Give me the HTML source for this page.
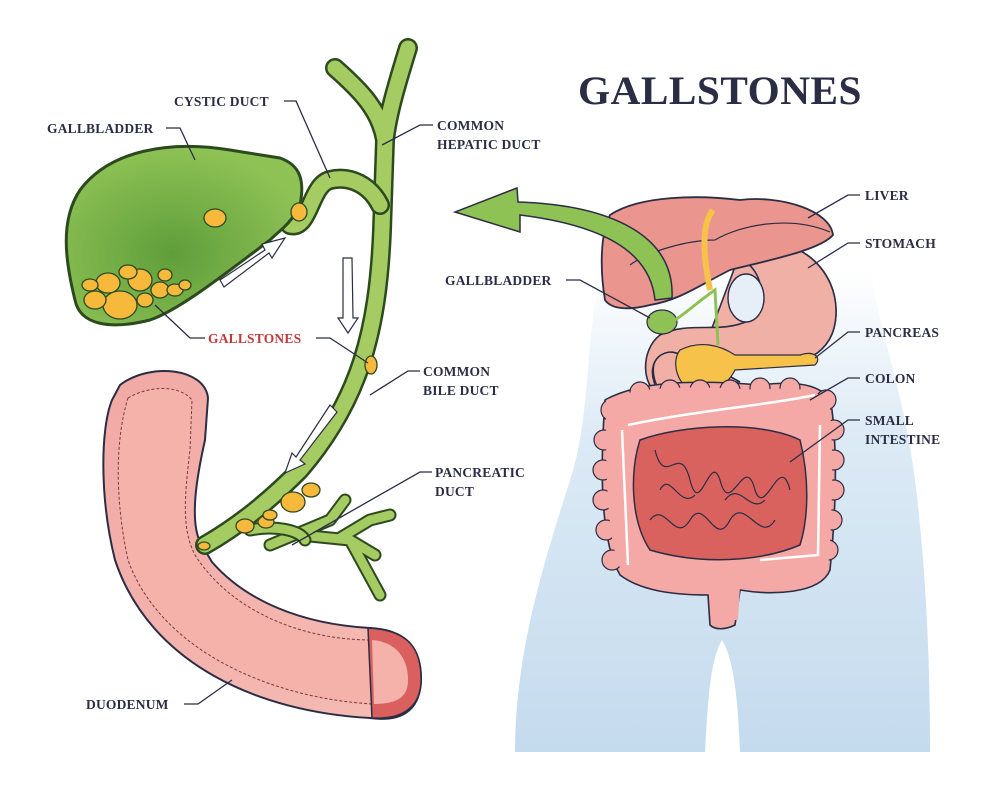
<!DOCTYPE html>
<html><head><meta charset="utf-8"><style>
html,body{margin:0;padding:0;background:#fff;}
svg{display:block;}
.l{font-family:"Liberation Serif","DejaVu Serif",serif;font-weight:bold;font-size:13.5px;fill:#2b2d45;letter-spacing:0.2px;}
.ln{stroke:#2b2d45;stroke-width:1.3;fill:none;}
</style></head><body>
<svg width="1000" height="800" viewBox="0 0 1000 800" xmlns="http://www.w3.org/2000/svg">
<defs>
<linearGradient id="bg" x1="0" y1="0" x2="0" y2="1">
<stop offset="0" stop-color="#ffffff"/><stop offset="0.35" stop-color="#dceaf5"/><stop offset="1" stop-color="#c4dbee"/>
</linearGradient>
<radialGradient id="gb" cx="0.45" cy="0.6" r="0.6"><stop offset="0" stop-color="#5f9e3a"/><stop offset="1" stop-color="#8ec255"/></radialGradient>
<linearGradient id="du" x1="0" y1="0" x2="1" y2="1"><stop offset="0" stop-color="#f2a9a5"/><stop offset="1" stop-color="#f5bcb4"/></linearGradient>
</defs>

<path d="M600,270 C585,350 590,420 570,480 C545,560 515,650 515,752 L930,752 C930,650 925,560 915,480 C905,400 880,330 870,270 Z" fill="url(#bg)"/>
<path d="M705,752 C708,700 710,660 722,640 C734,660 738,700 740,752 Z" fill="#fff"/>

<text x="578" y="104" font-family="Liberation Serif, DejaVu Serif, serif" font-weight="bold" font-size="40" fill="#2b2d45" letter-spacing="0.5" textLength="284" lengthAdjust="spacingAndGlyphs">GALLSTONES</text>

<!-- duodenum -->
<path d="M120,385 C150,362 205,368 208,398 L205,440 C196,480 190,520 200,542 L212,562 C245,600 300,624 370,628 C410,630 422,652 421,682 C419,712 400,722 370,718 C260,712 150,665 115,560 C100,500 100,430 112,400 Z" fill="url(#du)" stroke="#2b2d45" stroke-width="2"/>
<path d="M128,398 C150,385 180,385 192,400 L190,450 C184,500 182,530 195,555 C230,610 300,640 372,640 C395,642 408,660 408,680 C406,702 395,706 372,704 C270,698 160,650 128,560 C115,500 115,440 128,398 Z" fill="#f4b2ab" stroke="#7a3a3a" stroke-width="1" stroke-dasharray="3 2"/>
<path d="M368,628 L372,718 C405,720 420,705 421,682 C422,650 410,630 368,628 Z" fill="#d9605e" stroke="#2b2d45" stroke-width="1.5"/>
<path d="M372,640 L374,704 C400,704 408,695 408,680 C408,660 398,642 372,640 Z" fill="#f4b2ab"/>

<!-- ducts -->
<g fill="none" stroke-linecap="round" stroke-linejoin="round">
<path d="M335,68 C360,90 380,110 385,140 M408,48 C395,90 388,115 385,140 L382,230 C378,330 360,400 300,470 C270,500 240,525 205,545" stroke="#2d4a1f" stroke-width="20"/>
<path d="M335,68 C360,90 380,110 385,140 M408,48 C395,90 388,115 385,140 L382,230 C378,330 360,400 300,470 C270,500 240,525 205,545" stroke="#a5cc62" stroke-width="15"/>
<path d="M290,225 C310,230 310,185 330,180 C350,175 370,185 380,205" stroke="#2d4a1f" stroke-width="20"/>
<path d="M290,225 C310,230 310,185 330,180 C350,175 370,185 380,205" stroke="#a5cc62" stroke-width="15"/>
<path d="M270,545 L330,520 M300,535 L350,540 L375,555 M330,520 L345,500 M340,538 L370,520 L390,515 M350,540 L380,595" stroke="#2d4a1f" stroke-width="13"/>
<path d="M270,545 L330,520 M300,535 L350,540 L375,555 M330,520 L345,500 M340,538 L370,520 L390,515 M350,540 L380,595" stroke="#a5cc62" stroke-width="9"/>
<path d="M250,530 C275,525 300,530 305,540" stroke="#2d4a1f" stroke-width="13"/>
<path d="M250,530 C275,525 300,530 305,540" stroke="#a5cc62" stroke-width="9"/>
</g>
<path d="M80,190 C110,150 170,140 230,150 L280,158 C300,165 305,180 300,205 C290,225 280,230 270,240 C230,270 180,310 150,320 C110,330 80,325 75,300 C65,260 60,220 80,190 Z" fill="url(#gb)" stroke="#2d4a1f" stroke-width="3"/>
<g fill="#f6b93b" stroke="#2d4a1f" stroke-width="1.3">
<ellipse cx="215" cy="218" rx="11" ry="9"/>
<ellipse cx="299" cy="212" rx="8" ry="9"/>
<ellipse cx="120" cy="305" rx="17" ry="14"/><ellipse cx="95" cy="300" rx="11" ry="9"/>
<ellipse cx="108" cy="283" rx="12" ry="10"/><ellipse cx="140" cy="280" rx="12" ry="11"/>
<ellipse cx="128" cy="272" rx="9" ry="7"/><ellipse cx="160" cy="290" rx="9" ry="8"/>
<ellipse cx="145" cy="300" rx="8" ry="7"/><ellipse cx="165" cy="275" rx="7" ry="6"/>
<ellipse cx="175" cy="290" rx="8" ry="6"/><ellipse cx="185" cy="285" rx="6" ry="5"/>
<ellipse cx="90" cy="285" rx="8" ry="6"/>
<ellipse cx="371" cy="365" rx="6" ry="9"/>
<ellipse cx="293" cy="502" rx="12" ry="10"/><ellipse cx="311" cy="490" rx="9" ry="7"/>
<ellipse cx="266" cy="522" rx="8" ry="6"/><ellipse cx="245" cy="526" rx="9" ry="7"/>
<ellipse cx="270" cy="515" rx="7" ry="5"/><ellipse cx="204" cy="546" rx="6" ry="4"/>
</g>
<g fill="#fff" stroke="#2b2d45" stroke-width="1.2">
<path d="M220,280 L265,250 L262,244 L285,238 L272,258 L269,253 L224,287 Z"/>
<path d="M343,258 L352,258 L353,318 L358,318 L348,333 L338,318 L343,318 Z"/>
<path d="M330,405 L337,412 L300,460 L305,464 L285,473 L292,453 L296,457 Z"/>
</g>

<!-- right organs -->
<!-- stomach -->
<path d="M745,240 C800,235 838,270 836,315 C834,355 800,368 760,366 C720,366 690,356 672,352 C652,350 648,372 660,392 L690,395 C700,385 710,382 740,382 L700,360 Z" fill="#f1b0a6" stroke="#2b2d45" stroke-width="1.6"/>
<path d="M745,240 C800,235 838,270 836,315 C834,355 800,368 760,366 C720,364 690,356 672,352 C650,352 645,380 665,398 C640,390 640,350 660,335 C690,320 720,335 750,320 C770,300 760,270 745,262 Z" fill="#f1b0a6" stroke="#2b2d45" stroke-width="1.6"/>
<ellipse cx="746" cy="298" rx="18" ry="24" fill="#e6eff7" stroke="#2b2d45" stroke-width="1.4"/>
<!-- liver -->
<path d="M610,215 C640,195 700,195 740,200 C780,195 830,210 833,235 C820,250 770,260 730,270 C700,285 680,300 650,305 C630,310 612,310 605,300 C600,270 600,235 610,215 Z" fill="#ea958d" stroke="#2b2d45" stroke-width="1.8"/>
<path d="M630,265 C650,250 690,240 715,240 C740,225 790,215 830,232" fill="none" stroke="#2b2d45" stroke-width="1.2"/>
<path d="M713,210 C705,220 700,240 710,290" fill="none" stroke="#f6c24a" stroke-width="6"/>
<!-- pancreas -->
<path d="M680,350 C700,340 720,345 735,355 L800,355 C815,350 822,358 815,365 L735,370 C725,390 705,395 690,390 C675,380 672,360 680,350 Z" fill="#f6c24a" stroke="#2b2d45" stroke-width="1.2"/>
<ellipse cx="662" cy="322" rx="15" ry="12" fill="#8ec255" stroke="#2b2d45" stroke-width="1.2"/>
<path d="M675,320 C690,310 700,300 715,290 L718,345" fill="none" stroke="#8ec255" stroke-width="3"/>
<!-- colon -->
<path d="M605,400 C640,380 700,380 760,385 C800,380 830,385 832,410 C838,460 835,520 830,570 C820,595 770,595 740,590 L735,625 C725,630 715,630 710,625 L708,595 C670,595 640,590 620,575 C600,540 600,470 605,400 Z" fill="#f4a9a6" stroke="#2b2d45" stroke-width="1.6"/>
<g fill="#f4a9a6" stroke="#2b2d45" stroke-width="1.2">
<circle cx="612" cy="410" r="11"/><circle cx="604" cy="440" r="10"/><circle cx="603" cy="470" r="10"/><circle cx="603" cy="500" r="10"/><circle cx="606" cy="530" r="10"/><circle cx="612" cy="560" r="10"/>
<circle cx="826" cy="400" r="10"/><circle cx="834" cy="430" r="10"/><circle cx="834" cy="460" r="10"/><circle cx="834" cy="490" r="10"/><circle cx="832" cy="520" r="10"/><circle cx="828" cy="550" r="10"/>
<circle cx="640" cy="392" r="10"/><circle cx="670" cy="390" r="10"/><circle cx="700" cy="390" r="10"/><circle cx="730" cy="390" r="10"/><circle cx="760" cy="388" r="10"/><circle cx="790" cy="388" r="10"/>
</g>
<path d="M606,400 C640,385 700,386 760,390 C800,386 828,390 830,410 C834,460 832,520 828,570 C818,590 770,590 740,586 L738,620 L712,620 L710,590 C670,590 640,586 622,572 C606,540 606,470 606,400 Z" fill="#f4a9a6"/>
<path d="M628,425 C700,410 770,405 815,395 M622,430 L628,565 M820,425 L818,555 L760,560" fill="none" stroke="#fff" stroke-width="2.5"/>
<path d="M640,440 C680,425 760,420 800,440 C810,480 808,520 800,545 C760,562 700,565 650,550 C630,520 630,470 640,440 Z" fill="#d9625f" stroke="#2b2d45" stroke-width="1.5"/>
<g fill="none" stroke="#2b2d45" stroke-width="1.2">
<path d="M655,450 C665,490 680,440 690,480 C700,520 710,450 720,480 C730,520 745,450 755,490 C765,520 780,450 790,490"/>
<path d="M650,520 C665,500 675,545 690,520 C705,495 715,550 730,520 C745,495 760,545 775,520"/>
<path d="M660,490 C670,470 680,510 695,495 M725,500 C740,480 750,515 765,500"/>
</g>
<path d="M655,300 C650,250 600,225 520,215 L520,232 L455,212 L517,188 L518,202 C610,205 675,235 672,298 Z" fill="#8ec255" stroke="#2b2d45" stroke-width="1.5"/>

<!-- labels -->
<text class="l" x="174" y="106">CYSTIC DUCT</text>
<path class="ln" d="M284,101 L296,101 L330,178"/>
<text class="l" x="47" y="133">GALLBLADDER</text>
<path class="ln" d="M166,128 L180,128 L195,160"/>
<text class="l" x="437" y="130">COMMON</text>
<text class="l" x="437" y="149">HEPATIC DUCT</text>
<path class="ln" d="M433,125 L420,125 L382,145"/>
<text class="l" x="208" y="343" style="fill:#c0393b">GALLSTONES</text>
<path class="ln" d="M205,338 L190,338 L155,305 M316,338 L330,338 L368,363"/>
<text class="l" x="423" y="376">COMMON</text>
<text class="l" x="423" y="395">BILE DUCT</text>
<path class="ln" d="M420,371 L408,371 L370,395"/>
<text class="l" x="435" y="477">PANCREATIC</text>
<text class="l" x="435" y="496">DUCT</text>
<path class="ln" d="M432,472 L420,472 L292,545"/>
<text class="l" x="86" y="709">DUODENUM</text>
<path class="ln" d="M184,704 L198,704 L232,680"/>
<text class="l" x="865" y="200">LIVER</text>
<path class="ln" d="M860,195 L848,195 L808,218"/>
<text class="l" x="865" y="248">STOMACH</text>
<path class="ln" d="M860,243 L848,243 L808,268"/>
<text class="l" x="445" y="285">GALLBLADDER</text>
<path class="ln" d="M566,280 L580,280 L650,318"/>
<text class="l" x="865" y="337">PANCREAS</text>
<path class="ln" d="M860,332 L848,332 L815,358"/>
<text class="l" x="865" y="383">COLON</text>
<path class="ln" d="M860,378 L848,378 L810,400"/>
<text class="l" x="865" y="425">SMALL</text>
<text class="l" x="865" y="444">INTESTINE</text>
<path class="ln" d="M860,420 L848,420 L790,462"/>
</svg>
</body></html>
